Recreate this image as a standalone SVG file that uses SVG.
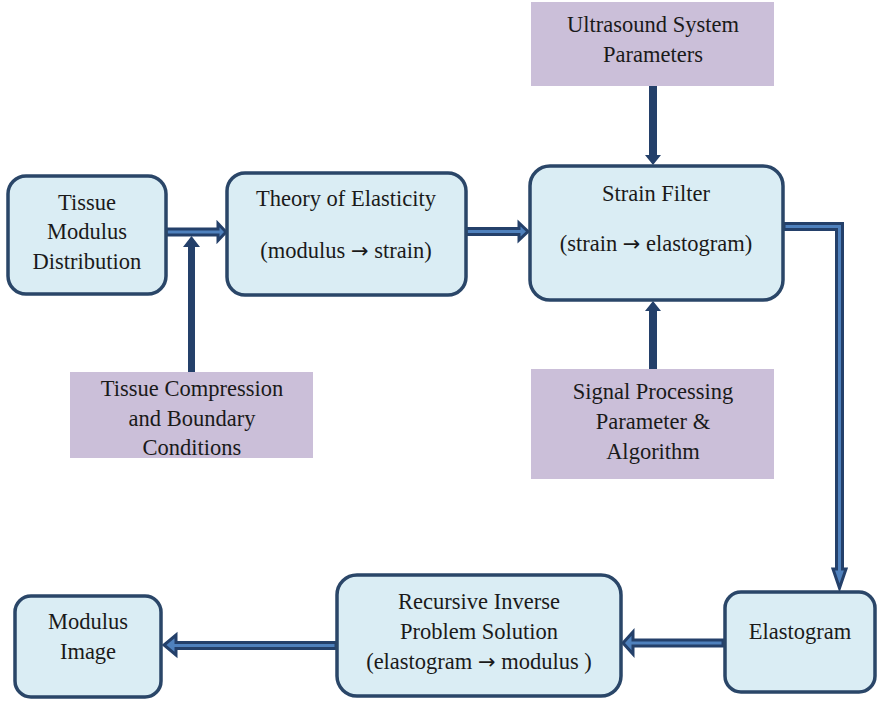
<svg xmlns="http://www.w3.org/2000/svg" width="877" height="702" viewBox="0 0 877 702">
<defs>
<style>
.box{fill:#daedf4;stroke:#2a4668;stroke-width:3.5}
.param{fill:#cbbfd9}
text{font-family:"Liberation Serif","Times New Roman",serif;font-size:22.5px;fill:#1a1a1a;text-anchor:middle}
.arr{font-family:"DejaVu Sans","Liberation Sans",sans-serif;font-size:21px}
.blk{fill:#4f81bd;stroke:#24406a;stroke-width:3;stroke-linejoin:miter}
.solid{fill:#24406a}
</style>
</defs>
<rect width="877" height="702" fill="#ffffff"/>
<g id="connectors">
<path class="blk" d="M166,229 L218,229 L218,223.5 L226,232 L218,240.5 L218,235 L166,235 Z"/>
<path class="solid" d="M188,372 L188,247 L183,247 L191.5,236 L200,247 L195,247 L195,372 Z"/>
<path class="blk" d="M466,228.5 L519,228.5 L519,223 L528,231.5 L519,240 L519,234.5 L466,234.5 Z"/>
<path class="solid" d="M649,86 L649,155 L645,155 L653,165 L661,155 L657,155 L657,86 Z"/>
<path class="solid" d="M649,369 L649,311 L645,311 L653,301 L661,311 L657,311 L657,369 Z"/>
<path class="blk" d="M784,223.5 L842.5,223.5 L842.5,569 L846,569 L839.5,588 L833,569 L836.5,569 L836.5,229.5 L784,229.5 Z"/>
<path class="blk" d="M723,640 L633,640 L633,632 L623,643 L633,654 L633,646 L723,646 Z"/>
<path class="blk" d="M336,642.5 L176,642.5 L176,635 L164,645 L176,655 L176,648.5 L336,648.5 Z"/>
</g>
<g id="node-tmd">
<rect class="box" x="8" y="176" width="158" height="118" rx="18"/>
<text x="87" y="210">Tissue</text>
<text x="87" y="239">Modulus</text>
<text x="87" y="269">Distribution</text>
</g>
<g id="node-theory">
<rect class="box" x="227" y="173" width="239" height="122" rx="18"/>
<text x="346" y="206">Theory of Elasticity</text>
<text x="346" y="258">(modulus <tspan class="arr">→</tspan> strain)</text>
</g>
<g id="node-strain">
<rect class="box" x="530" y="166" width="253" height="134" rx="20"/>
<text x="656" y="201">Strain Filter</text>
<text x="656" y="251">(strain <tspan class="arr">→</tspan> elastogram)</text>
</g>
<g id="node-ultrasound">
<rect class="param" x="531" y="2" width="243" height="84"/>
<text x="653" y="32">Ultrasound System</text>
<text x="653" y="62">Parameters</text>
</g>
<g id="node-signal">
<rect class="param" x="531" y="369" width="243" height="110"/>
<text x="653" y="399">Signal Processing</text>
<text x="653" y="429">Parameter &amp;</text>
<text x="653" y="459">Algorithm</text>
</g>
<g id="node-compression">
<rect class="param" x="70" y="372" width="243" height="86"/>
<text x="192" y="396">Tissue Compression</text>
<text x="192" y="426">and Boundary</text>
<text x="192" y="455">Conditions</text>
</g>
<g id="node-modulus-image">
<rect class="box" x="15" y="596" width="146" height="101" rx="16"/>
<text x="88" y="629">Modulus</text>
<text x="88" y="659">Image</text>
</g>
<g id="node-recursive">
<rect class="box" x="337" y="575" width="284" height="121" rx="20"/>
<text x="479" y="609">Recursive Inverse</text>
<text x="479" y="639">Problem Solution</text>
<text x="479" y="669">(elastogram <tspan class="arr">→</tspan> modulus )</text>
</g>
<g id="node-elastogram">
<rect class="box" x="725" y="592" width="150" height="100" rx="16"/>
<text x="800" y="639">Elastogram</text>
</g>
</svg>
